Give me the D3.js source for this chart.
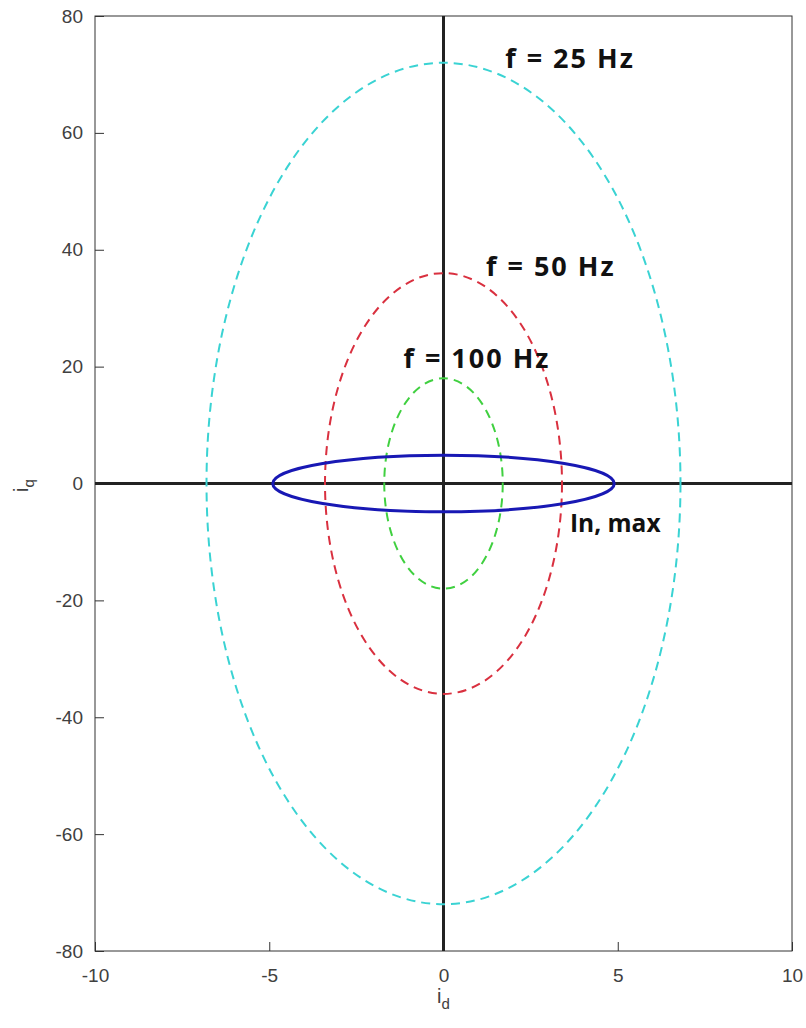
<!DOCTYPE html>
<html>
<head>
<meta charset="utf-8">
<script src="https://cdn.jsdelivr.net/npm/d3@7"></script>
<style>
body { margin: 0; background: #fff; }
.tick text { font-family: "Liberation Sans", Arial, sans-serif; font-size: 19px; fill: #404040; }
.lbl { font-family: "Open Sans", sans-serif; font-weight: bold; fill: #111; }
</style>
</head>
<body>
<svg id="chart" width="806" height="1028"></svg>
<script>
// ellipse names, half widths (id) and half heights (iq)
var names = ["f = 25 Hz", "f = 50 Hz", "f = 100 Hz", "In, max"];
var rxVals = [6.8, 3.4, 1.7, 4.9];
var ryVals = [72, 36, 18, 4.85];
var colors = ["#3ad3d3", "#d9303f", "#40d040", "#1818b4"];
var dashed = [true, true, true, false];
// label anchor points in data units
var labelX = [1.77, 1.22, -1.15, 3.63];
var labelY = [71.1, 35.5, 19.7, -8.25];
var labelSize = [27, 27, 27, 24.5];
var labelSpacing = [2, 2, 2, 0];

var xTicks = [-10, -5, 0, 5, 10];
var yTicks = [-80, -60, -40, -20, 0, 20, 40, 60, 80];

var svg = d3.select("#chart"),
    mLeft = 95, mRight = 792, mTop = 16, mBottom = 951;

var x = d3.scaleLinear().domain([-10, 10]).range([mLeft, mRight]);
var y = d3.scaleLinear().domain([-80, 80]).range([mBottom, mTop]);

// frame
svg.append("rect")
  .attr("x", mLeft).attr("y", mTop)
  .attr("width", mRight - mLeft).attr("height", mBottom - mTop)
  .attr("fill", "none").attr("stroke", "#333").attr("stroke-width", 1);

var xAxis = svg.append("g").attr("transform", "translate(0," + mBottom + ")")
  .call(d3.axisBottom(x).tickValues(xTicks).tickSize(-9).tickPadding(18).tickFormat(String));
var yAxis = svg.append("g").attr("transform", "translate(" + mLeft + ",0)")
  .call(d3.axisLeft(y).tickValues(yTicks).tickSize(-9).tickPadding(12).tickFormat(String));
[xAxis, yAxis].forEach(function(a) {
  a.select(".domain").remove();
  a.selectAll(".tick line").attr("stroke", "#333");
});

// thick zero axes
svg.append("line")
  .attr("x1", x(-10)).attr("x2", x(10)).attr("y1", y(0)).attr("y2", y(0))
  .attr("stroke", "#222").attr("stroke-width", 3);
svg.append("line")
  .attr("x1", x(0)).attr("x2", x(0)).attr("y1", y(80)).attr("y2", y(-80))
  .attr("stroke", "#222").attr("stroke-width", 3);

// ellipses
names.forEach(function(n, i) {
  svg.append("ellipse")
    .attr("cx", x(0)).attr("cy", y(0))
    .attr("rx", x(rxVals[i]) - x(0))
    .attr("ry", y(0) - y(ryVals[i]))
    .attr("fill", "none")
    .attr("stroke", colors[i])
    .attr("stroke-width", dashed[i] ? 2 : 3)
    .attr("stroke-dasharray", dashed[i] ? "9,6" : null);
});

// labels
names.forEach(function(n, i) {
  svg.append("text").attr("class", "lbl")
    .attr("x", x(labelX[i])).attr("y", y(labelY[i]))
    .attr("font-size", labelSize[i])
    .attr("letter-spacing", labelSpacing[i])
    .text(n);
});

// axis titles
var t1 = svg.append("text")
  .attr("transform", "translate(28," + (y(0) + 2) + ") rotate(-90)")
  .attr("text-anchor", "middle")
  .attr("font-family", "Liberation Sans, Arial, sans-serif")
  .attr("font-size", 20).attr("fill", "#404040");
t1.append("tspan").text("i");
t1.append("tspan").attr("dy", 6).attr("font-size", 15).text("q");

var t2 = svg.append("text")
  .attr("x", x(0)).attr("y", 1003)
  .attr("text-anchor", "middle")
  .attr("font-family", "Liberation Sans, Arial, sans-serif")
  .attr("font-size", 20).attr("fill", "#404040");
t2.append("tspan").text("i");
t2.append("tspan").attr("dy", 6).attr("font-size", 15).text("d");
</script>
</body>
</html>
